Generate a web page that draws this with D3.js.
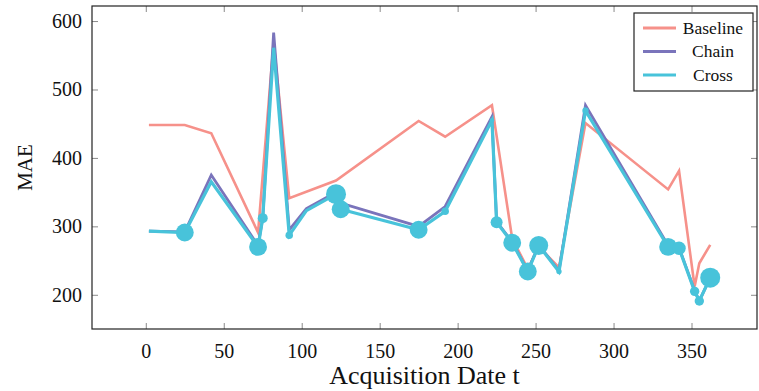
<!DOCTYPE html>
<html>
<head>
<meta charset="utf-8">
<script src="https://cdn.jsdelivr.net/npm/d3@7/dist/d3.min.js"></script>
<style>
  body { margin: 0; background: #fff; }
</style>
</head>
<body>
<div id="main"></div>
<script>

//===============DATA===================
var baseT   = [2, 25, 42, 72, 82, 92, 122, 175, 192, 222, 235, 245, 252, 265, 282, 335, 342, 352, 355, 362];
var baseMAE = [448, 448, 436, 291, 570, 341, 367, 454, 431, 477, 282, 238, 270, 240, 451, 354, 381, 212, 246, 273];

var t        = [2, 25, 42, 72, 75, 82, 92, 103, 122, 125, 175, 192, 222, 225, 235, 245, 252, 265, 282, 335, 342, 352, 355, 362];
var chainMAE = [293, 292, 375, 272, 312, 583, 295, 326, 350, 334, 300, 329, 460, 307, 277, 235, 273, 235, 477, 272, 269, 206, 191, 225];
var crossMAE = [293, 291, 365, 270, 312, 561, 287, 323, 347, 325, 295, 322, 455, 306, 276, 234, 272, 234, 469, 270, 268, 205, 191, 225];
var crossWeight = [0, 0.8, 0, 0.8, 0.25, 0, 0.14, 0, 1, 0.8, 0.8, 0.14, 0.05, 0.36, 0.8, 0.8, 0.9, 0.07, 0.1, 0.8, 0.45, 0.22, 0.22, 1];

var xTicks = [0, 50, 100, 150, 200, 250, 300, 350];
var yTicks = [200, 300, 400, 500, 600];

var seriesNames = ["Baseline", "Chain", "Cross"];
var colors = ["#f6918a", "#7a74bb", "#48c3da"];

//===============DRAW THE CHART===================
var W = 759, H = 391,
    margin = {top: 6, right: 2, bottom: 62, left: 92},
    width = W - margin.left - margin.right,
    height = H - margin.top - margin.bottom;

var svg = d3.select("#main").append("svg")
    .attr("width", W)
    .attr("height", H)
  .append("g")
    .attr("transform", "translate(" + margin.left + "," + margin.top + ")");

var x = d3.scaleLinear().domain([-34.5, 392]).range([0, width]);
var y = d3.scaleLinear().domain([150, 622]).range([height, 0]);
var r = d3.scaleSqrt().domain([0, 1]).range([0, 10]);

// ticks, pointing inward on all four sides
var tickLen = 6;
function innerAxis(axis, tr) {
  var g = svg.append("g").attr("transform", tr).call(axis);
  g.attr("font-family", null).attr("font-size", null);
  g.select(".domain").remove();
  g.selectAll("line").attr("stroke", "#8a8a8a");
  g.selectAll(".tick text")
    .attr("fill", "#111")
    .style("font-family", "Tinos")
    .style("font-size", "20px");
  return g;
}

innerAxis(d3.axisBottom(x).tickValues(xTicks).tickSize(-tickLen).tickPadding(15), "translate(0," + height + ")");
innerAxis(d3.axisTop(x).tickValues(xTicks).tickSize(-tickLen).tickFormat(""), "translate(0,0)");
innerAxis(d3.axisLeft(y).tickValues(yTicks).tickSize(-tickLen).tickPadding(10), "translate(0,0)");
innerAxis(d3.axisRight(y).tickValues(yTicks).tickSize(-tickLen).tickFormat(""), "translate(" + width + ",0)");

svg.append("rect")
  .attr("width", width)
  .attr("height", height)
  .attr("fill", "none")
  .attr("stroke", "#222")
  .attr("stroke-width", 1.2);

// axis titles
svg.append("text")
  .attr("x", width / 2)
  .attr("y", height + 55)
  .attr("text-anchor", "middle")
  .attr("fill", "#111")
  .style("font-family", "'Times New Roman'")
  .style("font-size", "26px")
  .text("Acquisition Date t");

svg.append("text")
  .attr("transform", "translate(" + (-60.5) + "," + (height / 2) + ") rotate(-90) scale(" + (21 / 18) + ")")
  .attr("text-anchor", "middle")
  .attr("fill", "#111")
  .style("font-family", "'Liberation Serif'")
  .style("font-size", "18px")
  .text("MAE");

// lines
var line = d3.line()
  .x(function(d){ return x(d[0]); })
  .y(function(d){ return y(d[1]); });

var plot = svg.append("g");

plot.append("path")
  .datum(d3.zip(baseT, baseMAE))
  .attr("d", line)
  .attr("fill", "none")
  .attr("stroke", colors[0])
  .attr("stroke-width", 2.6);

plot.append("path")
  .datum(d3.zip(t, chainMAE))
  .attr("d", line)
  .attr("fill", "none")
  .attr("stroke", colors[1])
  .attr("stroke-width", 2.8);

plot.append("path")
  .datum(d3.zip(t, crossMAE))
  .attr("d", line)
  .attr("fill", "none")
  .attr("stroke", colors[2])
  .attr("stroke-width", 3.2);

plot.selectAll(".dot")
  .data(d3.zip(t, crossMAE, crossWeight).filter(function(d){ return d[2] > 0; }))
  .enter()
  .append("circle")
  .attr("class", "dot")
  .attr("cx", function(d){ return x(d[0]); })
  .attr("cy", function(d){ return y(d[1]); })
  .attr("r", function(d){ return r(d[2]); })
  .attr("fill", colors[2]);

// legend
var legend = svg.append("g")
  .attr("transform", "translate(" + (634 - margin.left) + "," + (13 - margin.top) + ")");

legend.append("rect")
  .attr("width", 119)
  .attr("height", 78)
  .attr("fill", "#fff")
  .attr("stroke", "#222")
  .attr("stroke-width", 1.2);

var item = legend.selectAll(".item")
  .data(seriesNames)
  .enter()
  .append("g")
  .attr("class", "item")
  .attr("transform", function(d, i){ return "translate(0," + (15 + i * 23.5) + ")"; });

item.append("line")
  .attr("x1", 9).attr("x2", 42)
  .attr("stroke", function(d, i){ return colors[i]; })
  .attr("stroke-width", 3);

item.append("text")
  .attr("x", 79)
  .attr("dy", "0.33em")
  .attr("text-anchor", "middle")
  .attr("fill", "#111")
  .style("font-family", "'Liberation Serif'")
  .style("font-size", "17.5px")
  .text(function(d){ return d; });

</script>
</body>
</html>
